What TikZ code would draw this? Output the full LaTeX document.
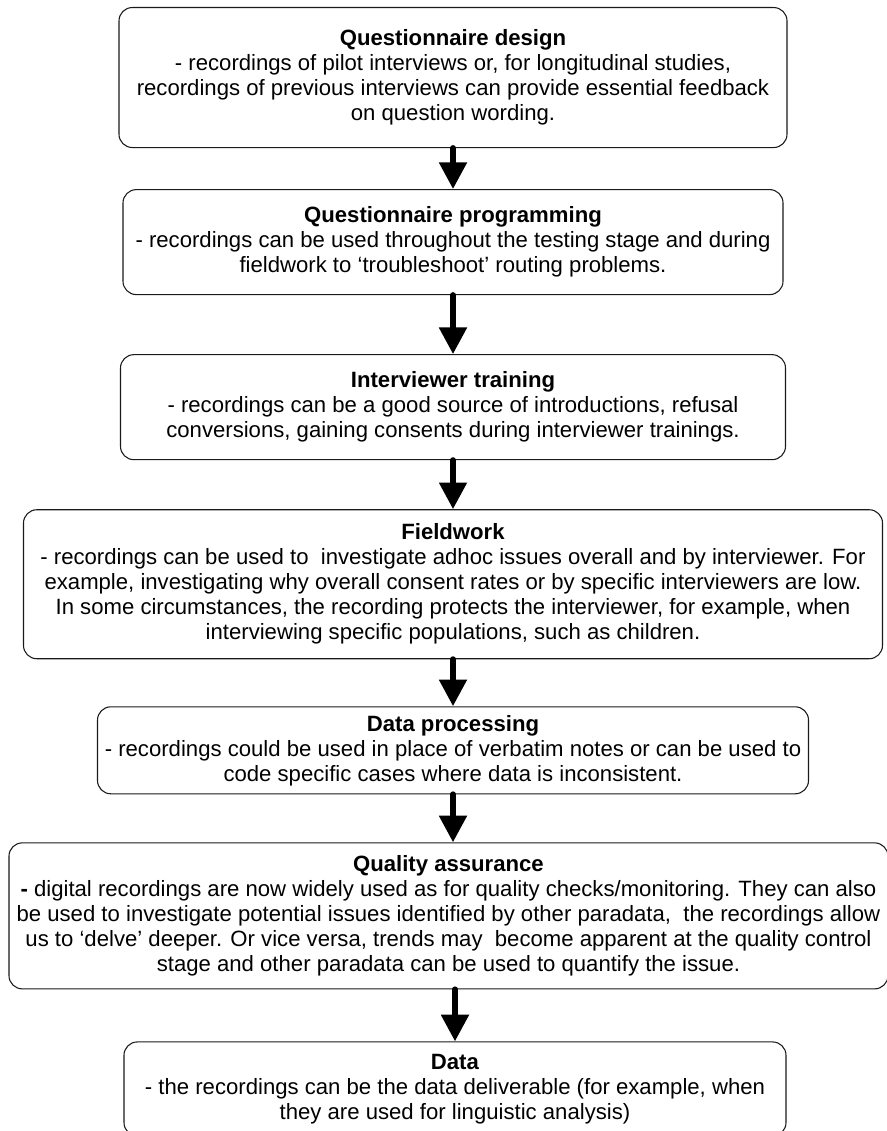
\documentclass[tikz,border=0pt]{standalone}
\usepackage{fontspec}
\setmainfont{Liberation Sans}
\usepackage{xcolor}
\definecolor{lineDark}{HTML}{1A1A1A}
\usepackage{tikz}
\usetikzlibrary{positioning,calc,arrows.meta}
\tikzset{%
  stageBox/.style={%
    rectangle,
    rounded corners=10pt,
    draw=lineDark,
    line width=0.8pt,
    fill=white,
    inner sep=0pt,
    align=center,
    font=\fontsize{16.6pt}{18.75pt}\selectfont
  },
  flowArrow/.style={%
    -{Triangle[length=20pt,width=20pt]},
    line width=4.5pt,
    line cap=round,
    color=black
  }
}

\begin{document}
\begin{tikzpicture}
            \useasboundingbox (0,0) rectangle (665.25pt,-848.25pt);
            \node[stageBox, minimum width=501pt, minimum height=105pt, anchor=north] (design) at (339.75pt,-5.25pt)
                {\textbf{Questionnaire design}\\- recordings of pilot interviews or, for longitudinal studies,\\recordings of previous interviews can provide essential feedback\\on question wording.};
            \node[stageBox, minimum width=495pt, minimum height=78.75pt, below=30.75pt of design] (programming)
                {\textbf{Questionnaire programming}\\- recordings can be used throughout the testing stage and during\\fieldwork to ‘troubleshoot’ routing problems.};
            \node[stageBox, minimum width=498.75pt, minimum height=78.75pt, below=44.25pt of programming] (training)
                {\textbf{Interviewer training}\\- recordings can be a good source of introductions, refusal\\conversions, gaining consents during interviewer trainings.};
            \node[stageBox, minimum width=644.25pt, minimum height=111.75pt, below=36.75pt of training] (fieldwork)
                {\textbf{Fieldwork}\\- recordings can be used to~ investigate adhoc issues overall and by interviewer. For\\example, investigating why overall consent rates or by specific interviewers are low.\\In some circumstances, the recording protects the interviewer, for example, when\\interviewing specific populations, such as children.};
            \node[stageBox, minimum width=533.25pt, minimum height=65.25pt, below=35.25pt of fieldwork] (processing)
                {\textbf{Data processing}\\- recordings could be used in place of verbatim notes or can be used to\\code specific cases where data is inconsistent.};
            \node[stageBox, minimum width=659.25pt, minimum height=109.5pt, below=36pt of processing, xshift=-3.4pt] (assurance)
                {\textbf{Quality assurance}\\\textbf{-} digital recordings are now widely used as for quality checks/monitoring. They can also\\be used to investigate potential issues identified by other paradata,~ the recordings allow\\us to ‘delve’ deeper. Or vice versa, trends may~ become apparent at the quality control\\stage and other paradata can be used to quantify the issue.};
            \node[stageBox, minimum width=496.5pt, minimum height=70.5pt, below=39pt of assurance, xshift=4.9pt] (data)
                {\textbf{Data}\\- the recordings can be the data deliverable (for example, when\\they are used for linguistic analysis)};

            \draw[flowArrow] (design) -- (programming);
            \draw[flowArrow] (programming) -- (training);
            \draw[flowArrow] (training) -- (fieldwork);
            \draw[flowArrow] (fieldwork) -- (processing);
            \draw[flowArrow] (processing.south) -- (processing.south |- assurance.north);
            \draw[flowArrow] (assurance.south -| data.north) -- (data.north);
        \end{tikzpicture}
\end{document}
